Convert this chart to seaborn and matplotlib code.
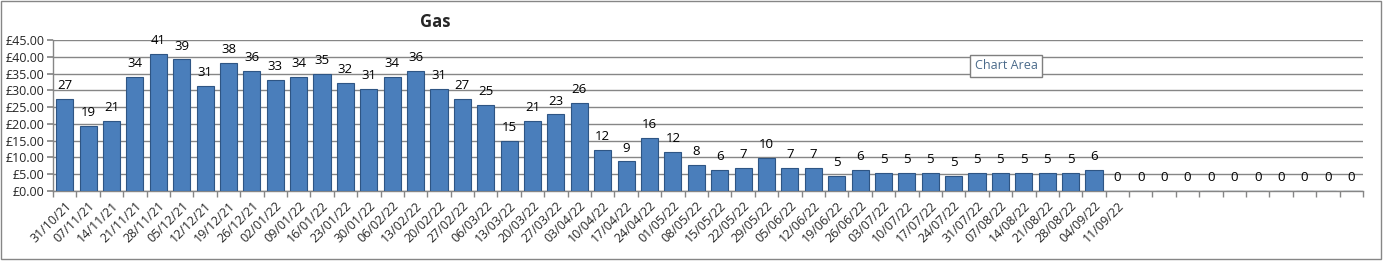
import matplotlib
matplotlib.use("Agg")
import matplotlib.pyplot as plt
import seaborn as sns
import pandas as pd
import numpy as np
from matplotlib.patches import Rectangle

dates = ["31/10/21", "07/11/21", "14/11/21", "21/11/21", "28/11/21", "05/12/21", "12/12/21",
         "19/12/21", "26/12/21", "02/01/22", "09/01/22", "16/01/22", "23/01/22", "30/01/22",
         "06/02/22", "13/02/22", "20/02/22", "27/02/22", "06/03/22", "13/03/22", "20/03/22",
         "27/03/22", "03/04/22", "10/04/22", "17/04/22", "24/04/22", "01/05/22", "08/05/22",
         "15/05/22", "22/05/22", "29/05/22", "05/06/22", "12/06/22", "19/06/22", "26/06/22",
         "03/07/22", "10/07/22", "17/07/22", "24/07/22", "31/07/22", "07/08/22", "14/08/22",
         "21/08/22", "28/08/22", "04/09/22", "11/09/22"]
blank_slots = 10
values = [27.3, 19.3, 21.0, 34.1, 40.9, 39.2, 31.4, 38.2, 35.9, 33.1, 34.1, 34.9, 32.3, 30.5,
          34.1, 35.9, 30.5, 27.3, 25.5, 15.0, 21.0, 22.8, 26.3, 12.3, 8.8, 15.9, 11.5, 7.8,
          6.3, 6.9, 9.8, 6.9, 6.9, 4.6, 6.3, 5.3, 5.3, 5.3, 4.6, 5.3, 5.3, 5.3, 5.3, 5.3, 6.3,
          0, 0, 0, 0, 0, 0, 0, 0, 0, 0, 0]
value_labels = [27, 19, 21, 34, 41, 39, 31, 38, 36, 33, 34, 35, 32, 31, 34, 36, 31, 27, 25, 15,
                21, 23, 26, 12, 9, 16, 12, 8, 6, 7, 10, 7, 7, 5, 6, 5, 5, 5, 5, 5, 5, 5, 5, 5, 6,
                0, 0, 0, 0, 0, 0, 0, 0, 0, 0, 0]
tick_labels = dates + [""] * blank_slots
y_ticks = [0, 5, 10, 15, 20, 25, 30, 35, 40, 45]

sns.set_theme(style="white")
plt.rcParams['font.family'] = ['Open Sans', 'DejaVu Sans']

fig = plt.figure(figsize=(13.85, 2.65), dpi=100)
ax = fig.add_axes([53/1385, 1 - 191/265, (1363 - 53)/1385, 151/265])

cats = [f"c{i}" for i in range(len(values))]
df = pd.DataFrame({"cat": cats, "val": values})
sns.barplot(data=df, x="cat", y="val", ax=ax, color="#4A7EBB", width=0.73,
            edgecolor="#2E5584", linewidth=0.8, saturation=1, zorder=3)

ax.set_ylim(0, 45)
ax.set_xlim(-0.5, len(values) - 0.5)
ax.set_yticks(y_ticks)
ax.set_yticklabels([f"£{v:.2f}" for v in y_ticks], fontsize=9)
ax.yaxis.grid(True, color="#868686", linewidth=1, zorder=0)
ax.set_axisbelow(True)
ax.set_xlabel("")
ax.set_ylabel("")

ax.set_xticks(range(len(values)))
ax.set_xticklabels(tick_labels, rotation=45, ha="right", rotation_mode="anchor", fontsize=9)
ax.tick_params(axis="x", length=0, pad=6)
ax.set_xticks(np.arange(-0.5, len(values), 1), minor=True)
ax.tick_params(axis="x", which="minor", length=4, color="#868686", direction="out", bottom=True)
ax.tick_params(axis="y", length=4, color="#868686", direction="out", left=True, pad=2)

for s in ["top", "right"]:
    ax.spines[s].set_visible(False)
for s in ["left", "bottom"]:
    ax.spines[s].set_color("#868686")
    ax.spines[s].set_linewidth(1)

for i, (v, lab) in enumerate(zip(values, value_labels)):
    ax.annotate(str(lab), (i, v), xytext=(0, 5), textcoords="offset points",
                ha="center", va="bottom", fontsize=9.5, color="black")

fig.text(435/1385, 1 - 22/265, "Gas", fontsize=12, fontweight="bold", ha="center", va="center")

fig.text(1006/1385, 1 - 66/265, "Chart Area", fontsize=9, color="#4A6A8A", ha="center", va="center",
         bbox=dict(boxstyle="square,pad=0.35", facecolor="white", edgecolor="#7F7F7F", linewidth=1))

fig.patches.append(Rectangle((1/1385, 6/265), 1380/1385, 258/265, transform=fig.transFigure,
                             fill=False, edgecolor="#868686", linewidth=1))

fig.savefig("out.png", dpi=100)
